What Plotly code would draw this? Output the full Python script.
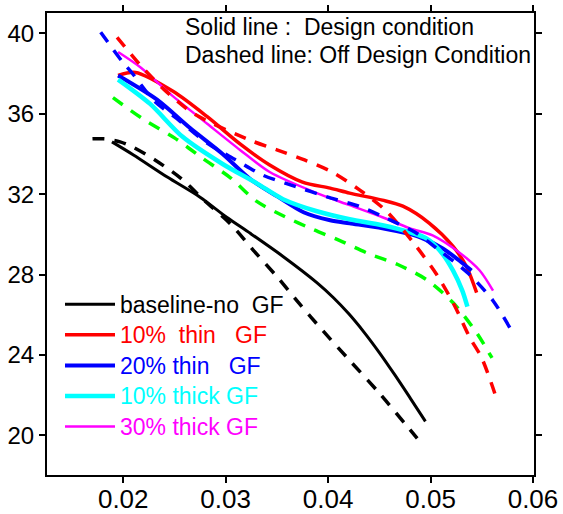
import plotly.graph_objects as go

# ---- data ----
black_solid_x = [0.0189, 0.021, 0.0243, 0.0275, 0.0301, 0.0324, 0.0356, 0.0389, 0.0405, 0.042, 0.0435, 0.045, 0.0465, 0.048, 0.0495]
black_solid_y = [34.6, 33.95, 32.85, 31.85, 30.85, 30.05, 28.9, 27.6, 26.86, 26.06, 25.14, 24.12, 23.02, 21.87, 20.7]

red_solid_x = [0.0195, 0.0212, 0.0249, 0.0282, 0.0314, 0.0343, 0.0375, 0.0402, 0.0421, 0.0453, 0.0473, 0.0499, 0.0522, 0.0535, 0.0545]
red_solid_y = [37.9, 38.05, 37.1, 35.85, 34.5, 33.45, 32.6, 32.3, 32.05, 31.7, 31.4, 30.55, 29.4, 28.4, 27.1]

blue_solid_x = [0.0195, 0.0233, 0.0265, 0.0297, 0.0324, 0.035, 0.0376, 0.0402, 0.0421, 0.0453, 0.0477, 0.049, 0.0512, 0.0528, 0.054]
blue_solid_y = [37.9, 36.7, 35.3, 34.0, 32.75, 31.9, 31.1, 30.7, 30.55, 30.3, 30.05, 29.85, 29.3, 28.7, 28.2]

cyan_solid_x = [0.0195, 0.0226, 0.0258, 0.0297, 0.033, 0.0356, 0.0389, 0.0421, 0.0453, 0.048, 0.0496, 0.0509, 0.0522, 0.0531, 0.0536]
cyan_solid_y = [37.7, 36.5, 34.85, 33.5, 32.55, 31.75, 31.15, 30.75, 30.45, 30.1, 29.8, 29.2, 28.2, 27.2, 26.4]

magenta_solid_x = [0.0195, 0.0217, 0.0249, 0.0282, 0.0314, 0.0343, 0.0389, 0.0421, 0.0453, 0.048, 0.0502, 0.0528, 0.0548, 0.0561]
magenta_solid_y = [39.07, 38.3, 36.85, 35.5, 34.2, 33.1, 32.05, 31.45, 30.85, 30.3, 29.95, 29.1, 28.2, 27.2]

black_dash_x = [0.0170, 0.0181, 0.0197, 0.0209, 0.0231, 0.0256, 0.028, 0.0305, 0.0328, 0.035, 0.0372, 0.0395, 0.0418, 0.045, 0.0487]
black_dash_y = [34.75, 34.75, 34.6, 34.35, 33.7, 32.8, 31.65, 30.5, 29.15, 27.9, 26.55, 25.2, 23.9, 22.1, 19.85]

red_dash_x = [0.0194, 0.0217, 0.0240, 0.0269, 0.0323, 0.035, 0.0377, 0.0404, 0.0431, 0.0456, 0.0483, 0.0506, 0.0523, 0.0538, 0.055, 0.0564]
red_dash_y = [39.8, 38.4, 37.2, 36.0, 34.7, 34.2, 33.7, 33.1, 32.2, 31.2, 29.6, 28.0, 26.5, 24.9, 23.85, 21.9]

blue_dash_x = [0.0178, 0.0199, 0.0209, 0.023, 0.0255, 0.0283, 0.031, 0.0336, 0.0364, 0.0403, 0.043, 0.0457, 0.0485, 0.051, 0.0537, 0.0561, 0.0578]
blue_dash_y = [40.05, 38.6, 38.0, 36.65, 35.65, 34.5, 33.7, 32.95, 32.45, 31.8, 31.4, 30.8, 30.1, 29.15, 28.05, 26.7, 25.3]

green_dash_x = [0.019, 0.0219, 0.025, 0.0277, 0.0305, 0.033, 0.0357, 0.0385, 0.0411, 0.0439, 0.0468, 0.0496, 0.0522, 0.0545, 0.056]
green_dash_y = [36.8, 35.75, 34.8, 33.8, 32.8, 31.65, 30.9, 30.25, 29.7, 29.05, 28.5, 27.75, 26.6, 25.1, 23.85]

legend_names = ["baseline-no  GF", "10%  thin   GF", "20% thin   GF", "10% thick GF", "30% thick GF"]
x_ticks = [0.02, 0.03, 0.04, 0.05, 0.06]
x_tick_labels = ["0.02", "0.03", "0.04", "0.05", "0.06"]
y_ticks = [20, 24, 28, 32, 36, 40]
y_tick_labels = ["20", "24", "28", "32", "36", "40"]

FONT = "Liberation Sans, Arial, sans-serif"

def nb(s):
    return s.replace(" ", "\u00a0")

fig = go.Figure()

solids = [
    (black_solid_x, black_solid_y, "#000000", 3, legend_names[0]),
    (red_solid_x, red_solid_y, "#ff0000", 3.5, legend_names[1]),
    (blue_solid_x, blue_solid_y, "#0000ff", 4, legend_names[2]),
    (cyan_solid_x, cyan_solid_y, "#00ffff", 4.5, legend_names[3]),
    (magenta_solid_x, magenta_solid_y, "#ff00ff", 2.5, legend_names[4]),
]
for xs, ys, col, w, name in solids:
    fig.add_trace(go.Scatter(
        x=xs, y=ys, mode="lines", line=dict(color=col, width=w, shape="spline", smoothing=0.8),
        name='<span style="color:%s;font-size:23px">%s</span>' % (col, nb(name)), showlegend=True))

dashes = [
    (black_dash_x, black_dash_y, "#000000"),
    (green_dash_x, green_dash_y, "#00ff00"),
    (red_dash_x, red_dash_y, "#ff0000"),
    (blue_dash_x, blue_dash_y, "#0000ff"),
]
for xs, ys, col in dashes:
    fig.add_trace(go.Scatter(
        x=xs, y=ys, mode="lines",
        line=dict(color=col, width=3.5, dash="12px,10px", shape="spline", smoothing=0.8),
        showlegend=False, hoverinfo="skip"))

axis_common = dict(showline=True, linecolor="black", linewidth=2, mirror="allticks",
                   ticks="outside", ticklen=6, tickwidth=2, tickcolor="black",
                   showgrid=False, zeroline=False, automargin=False)

fig.update_layout(
    width=563, height=514,
    margin=dict(l=47, r=29, t=13, b=39),
    plot_bgcolor="white", paper_bgcolor="white",
    font=dict(family=FONT, color="black"),
    xaxis=dict(range=[0.01256, 0.0601], tickvals=x_ticks, ticktext=x_tick_labels,
               tickfont=dict(size=26, family=FONT, color="black"), ticklabelstandoff=-6,
               **axis_common),
    yaxis=dict(range=[18.03, 41.01], tickvals=y_ticks, ticktext=y_tick_labels,
               tickfont=dict(size=24, family=FONT, color="black"), **axis_common),
    legend=dict(x=(60 - 47) / 487, y=(475 - 284) / 462, xanchor="left", yanchor="top",
                bgcolor="rgba(0,0,0,0)", font=dict(size=21.2, family=FONT),
                itemwidth=50, tracegroupgap=0),
    showlegend=True,
)

fig.add_annotation(x=(183 - 47) / 487, y=(475 - 27) / 462, xref="paper", yref="paper",
                   xanchor="left", yanchor="middle", showarrow=False,
                   text=nb("Solid line :  Design condition"),
                   font=dict(size=23, family=FONT, color="black"))
fig.add_annotation(x=(183 - 47) / 487, y=(475 - 55.5) / 462, xref="paper", yref="paper",
                   xanchor="left", yanchor="middle", showarrow=False,
                   text=nb("Dashed line: Off Design Condition"),
                   font=dict(size=23, family=FONT, color="black"))

fig.write_html("out.html")
